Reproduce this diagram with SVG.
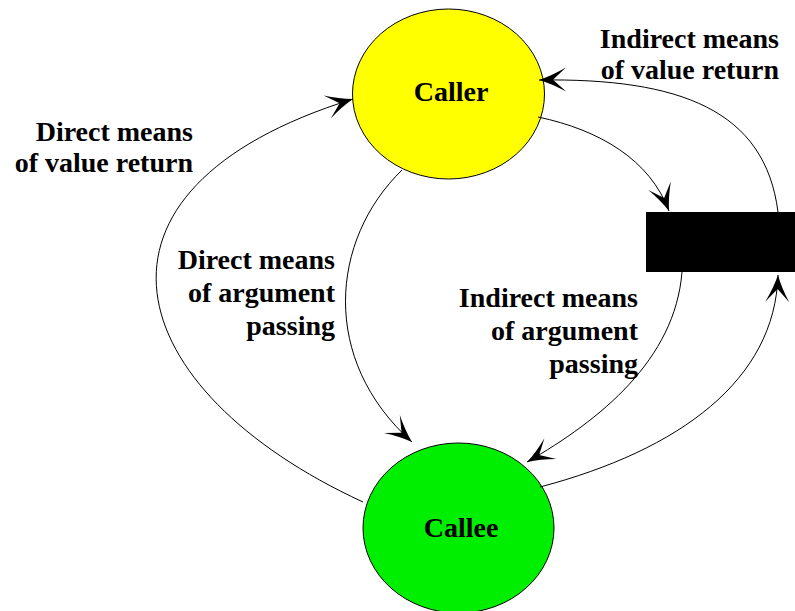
<svg xmlns="http://www.w3.org/2000/svg" width="795" height="611" viewBox="0 0 795 611">
<defs>
<style>
text{font-family:'Liberation Serif','Times New Roman',serif;font-weight:bold;font-size:28px;fill:#000}
.lbl{text-anchor:end}
.nm{text-anchor:middle}
.edge{fill:none;stroke:#000;stroke-width:1}
</style>
<marker id="ah" markerUnits="userSpaceOnUse" markerWidth="30" markerHeight="28" viewBox="-28 -14 30 28" refX="0" refY="0" orient="auto" overflow="visible">
<path d="M0,0 Q-13,-4 -27,-12 L-14,0 L-27,12 Q-13,4 0,0 Z" fill="#000"/>
</marker>
</defs>
<rect width="795" height="611" fill="#fff"/>
<g id="caller">
<ellipse cx="448.5" cy="94" rx="96" ry="85" fill="#ffff00" stroke="#000" stroke-width="1"/>
<text class="nm" x="451" y="101">Caller</text>
</g>
<g id="callee">
<ellipse cx="458.5" cy="528" rx="95.5" ry="85" fill="#00ee00" stroke="#000" stroke-width="1"/>
<text class="nm" x="461" y="537">Callee</text>
</g>
<g id="box">
<rect x="646" y="212" width="160" height="60" fill="#000"/>
</g>
<g id="connectors">
<path class="edge" d="M538,117 C600,130 650,160 669,211" marker-end="url(#ah)"/>
<path class="edge" d="M778,212 C765,110 680,78 539,80" marker-end="url(#ah)"/>
<path class="edge" d="M682,272 C675,360 600,420 527,462" marker-end="url(#ah)"/>
<path class="edge" d="M540,487 C680,450 775,380 778,275" marker-end="url(#ah)"/>
<path class="edge" d="M402,170 C330,240 320,360 412,442" marker-end="url(#ah)"/>
<path class="edge" d="M363,502 C120,390 60,190 353,99" marker-end="url(#ah)"/>
</g>
<g id="labels">
<text class="lbl" x="779" y="48">Indirect means</text>
<text class="lbl" x="779" y="79">of value return</text>
<text class="lbl" x="193" y="141">Direct means</text>
<text class="lbl" x="193" y="172">of value return</text>
<text class="lbl" x="335" y="269">Direct means</text>
<text class="lbl" x="335" y="302">of argument</text>
<text class="lbl" x="335" y="335">passing</text>
<text class="lbl" x="638" y="307">Indirect means</text>
<text class="lbl" x="638" y="340">of argument</text>
<text class="lbl" x="638" y="373">passing</text>
</g>
</svg>
